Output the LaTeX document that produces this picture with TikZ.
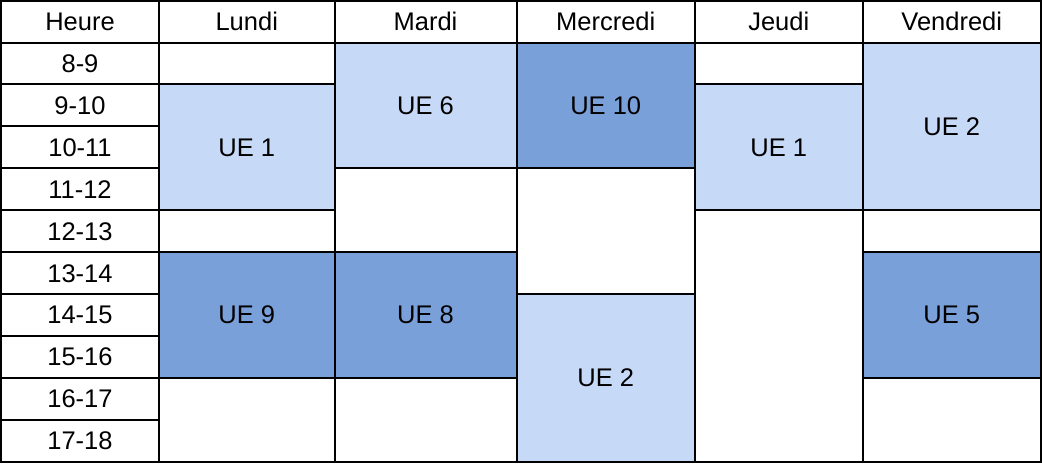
\documentclass[tikz,border=0pt]{standalone}
\usepackage{fontspec}
\setmainfont{Liberation Sans}
\definecolor{ueclair}{HTML}{C6D9F7}
\definecolor{uefonce}{HTML}{7AA0DA}
\begin{document}
\begin{tikzpicture}[x=1pt, y=-1pt, line width=2pt, line join=miter, font=\fontsize{25.5}{30}\selectfont]
	\def\haut{42.5} \def\pas{41.95} \def\bas{462}
	\useasboundingbox (0,0) rectangle (1042,464);
	% en-tete
	\foreach \xa/\xb/\jour/\nom in {1/159/Heure/heure, 159/334.5/Lundi/lundi, 334.5/516.5/Mardi/mardi, 516.5/695/Mercredi/mercredi, 695/862.5/Jeudi/jeudi, 862.5/1041/Vendredi/vendredi}{
		\draw[fill=white] (\xa,1) rectangle (\xb,\haut);
		\node (\nom) at ({(\xa+\xb)/2},{(1+\haut)/2}) {\jour};
	}
	% colonne des heures
	\foreach \i/\h in {0/8-9, 1/9-10, 2/10-11, 3/11-12, 4/12-13, 5/13-14, 6/14-15, 7/15-16, 8/16-17, 9/17-18}{
		\draw[fill=white] (1,\haut+\i*\pas) rectangle (159,\haut+\i*\pas+\pas);
		\node (h\i) at (80,\haut+\i*\pas+\pas/2) {\h};
	}
	% cases : gauche/droite/premiere ligne/derniere ligne/couleur/texte/nom
	\foreach \xa/\xb/\ra/\rb/\coul/\txt/\nom in {
		159/334.5/0/0/white//lu0, 159/334.5/1/3/ueclair/UE 1/lu1, 159/334.5/4/4/white//lu4,
		159/334.5/5/7/uefonce/UE 9/lu5, 159/334.5/8/9/white//lu8,
		334.5/516.5/0/2/ueclair/UE 6/ma0, 334.5/516.5/3/4/white//ma3,
		334.5/516.5/5/7/uefonce/UE 8/ma5, 334.5/516.5/8/9/white//ma8,
		516.5/695/0/2/uefonce/UE 10/me0, 516.5/695/3/5/white//me3, 516.5/695/6/9/ueclair/UE 2/me6,
		695/862.5/0/0/white//je0, 695/862.5/1/3/ueclair/UE 1/je1, 695/862.5/4/9/white//je4,
		862.5/1041/0/3/ueclair/UE 2/ve0, 862.5/1041/4/4/white//ve4,
		862.5/1041/5/7/uefonce/UE 5/ve5, 862.5/1041/8/9/white//ve8}{
		\draw[fill=\coul] (\xa,\haut+\ra*\pas) rectangle (\xb,\haut+\rb*\pas+\pas);
		\node (\nom) at ({(\xa+\xb)/2},{\haut+(\ra+\rb+1)*\pas/2}) {\txt};
	}
\end{tikzpicture}
\end{document}
